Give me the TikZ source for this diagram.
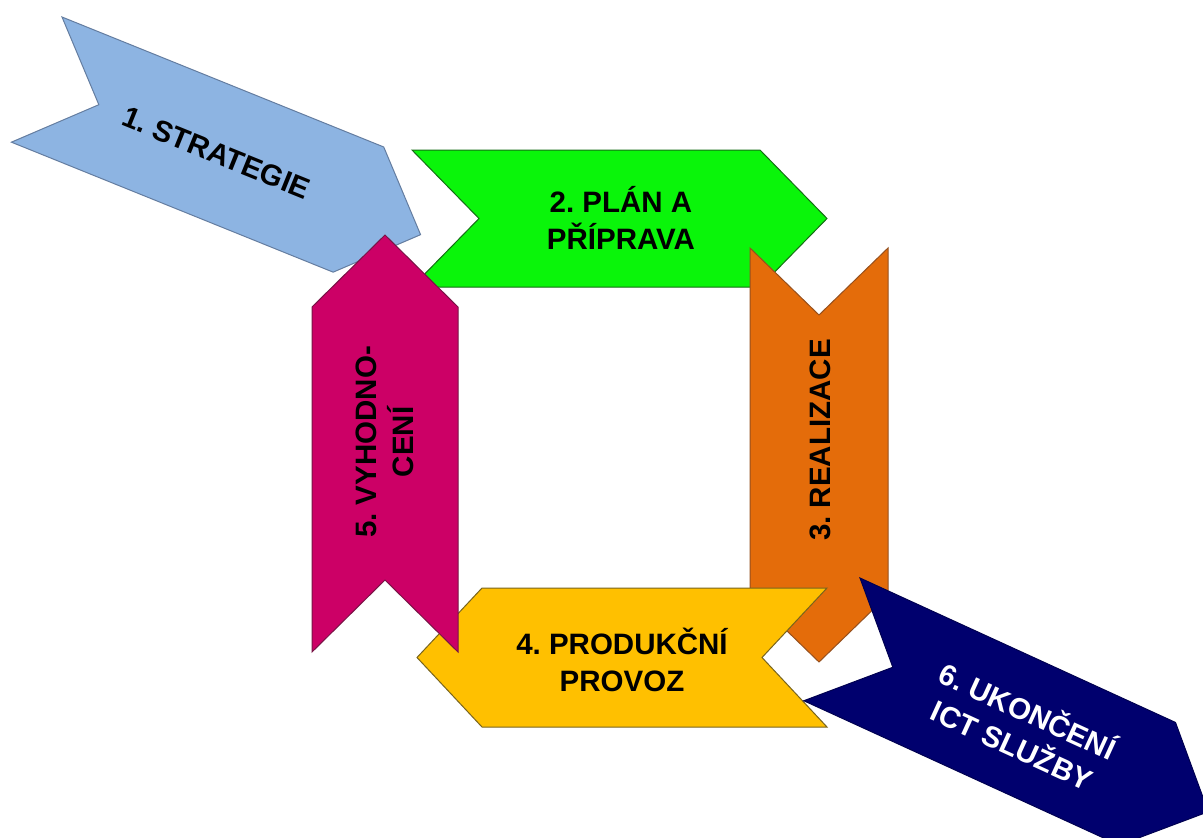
\documentclass[tikz,border=0pt]{standalone}
\usepackage{fontspec}
\setmainfont{Liberation Sans}
\frenchspacing
\definecolor{cBlue}{RGB}{141,180,226}
\definecolor{cBlueLn}{RGB}{100,125,160}
\definecolor{cGreen}{RGB}{10,245,10}
\definecolor{cGreenLn}{RGB}{20,110,20}
\definecolor{cOrange}{RGB}{228,108,10}
\definecolor{cOrangeLn}{RGB}{150,80,30}
\definecolor{cYellow}{RGB}{255,192,0}
\definecolor{cYellowLn}{RGB}{120,100,30}
\definecolor{cMagenta}{RGB}{204,0,102}
\definecolor{cMagentaLn}{RGB}{120,20,70}
\definecolor{cNavy}{RGB}{0,0,110}
\definecolor{cNavyLn}{RGB}{0,0,80}
\tikzset{
  chev/.style={line width=1pt, line join=miter},
  lbl/.style={font=\fontsize{29.5}{37}\selectfont\bfseries\frenchspacing, align=center, inner sep=0pt, text=black},
}
\newcommand{\chevpath}[3]{(0,0) -- (#1,0) -- ({#1+#3},{#2/2}) -- (#1,#2) -- (0,#2) -- (#3,{#2/2}) -- cycle}
\begin{document}
\begin{tikzpicture}[x=1pt,y=-1pt]
\clip (0,0) rectangle (1203,838);
\fill[white] (0,0) rectangle (1203,838);
% 1 blue
\begin{scope}[shift={(62,17)}, rotate=-22]
  \draw[chev, fill=cBlue, draw=cBlueLn] \chevpath{347}{135}{67};
  \node[lbl, rotate=-22] (t1) at (194,68) {1. STRATEGIE};
\end{scope}
% 2 green
\begin{scope}[shift={(412,150)}]
  \draw[chev, fill=cGreen, draw=cGreenLn] \chevpath{348}{137}{67};
  \node[lbl] (t2) at (209,68) {2. PLÁN A\\PŘÍPRAVA};
\end{scope}
% 3 orange
\begin{scope}[shift={(888,248)}, rotate=-90]
  \draw[chev, fill=cOrange, draw=cOrangeLn] \chevpath{347}{138}{67};
  \node[lbl, rotate=90] (t3) at (192,68) {3. REALIZACE};
\end{scope}
% 4 yellow
\begin{scope}[shift={(827,727)}, rotate=180]
  \draw[chev, fill=cYellow, draw=cYellowLn] \chevpath{345}{139}{65};
  \node[lbl] (t4) at (205,67) {4. PRODUKČNÍ\\PROVOZ};
\end{scope}
% 5 magenta
\begin{scope}[shift={(312,652)}, rotate=90]
  \draw[chev, fill=cMagenta, draw=cMagentaLn] \chevpath{345}{146}{72};
  \node[lbl, rotate=90] (t5) at (210,73) {5. VYHODNO-\\CENÍ};
\end{scope}
% 6 navy
\begin{scope}[shift={(860,578)}, rotate=-24.6]
  \draw[chev, fill=cNavy, draw=cNavyLn] \chevpath{347}{135}{67};
  \node[lbl, text=white, rotate=-24.6] (t6) at (208,68) {6. UKONČENÍ\\ICT SLUŽBY};
\end{scope}
\end{tikzpicture}
\end{document}
